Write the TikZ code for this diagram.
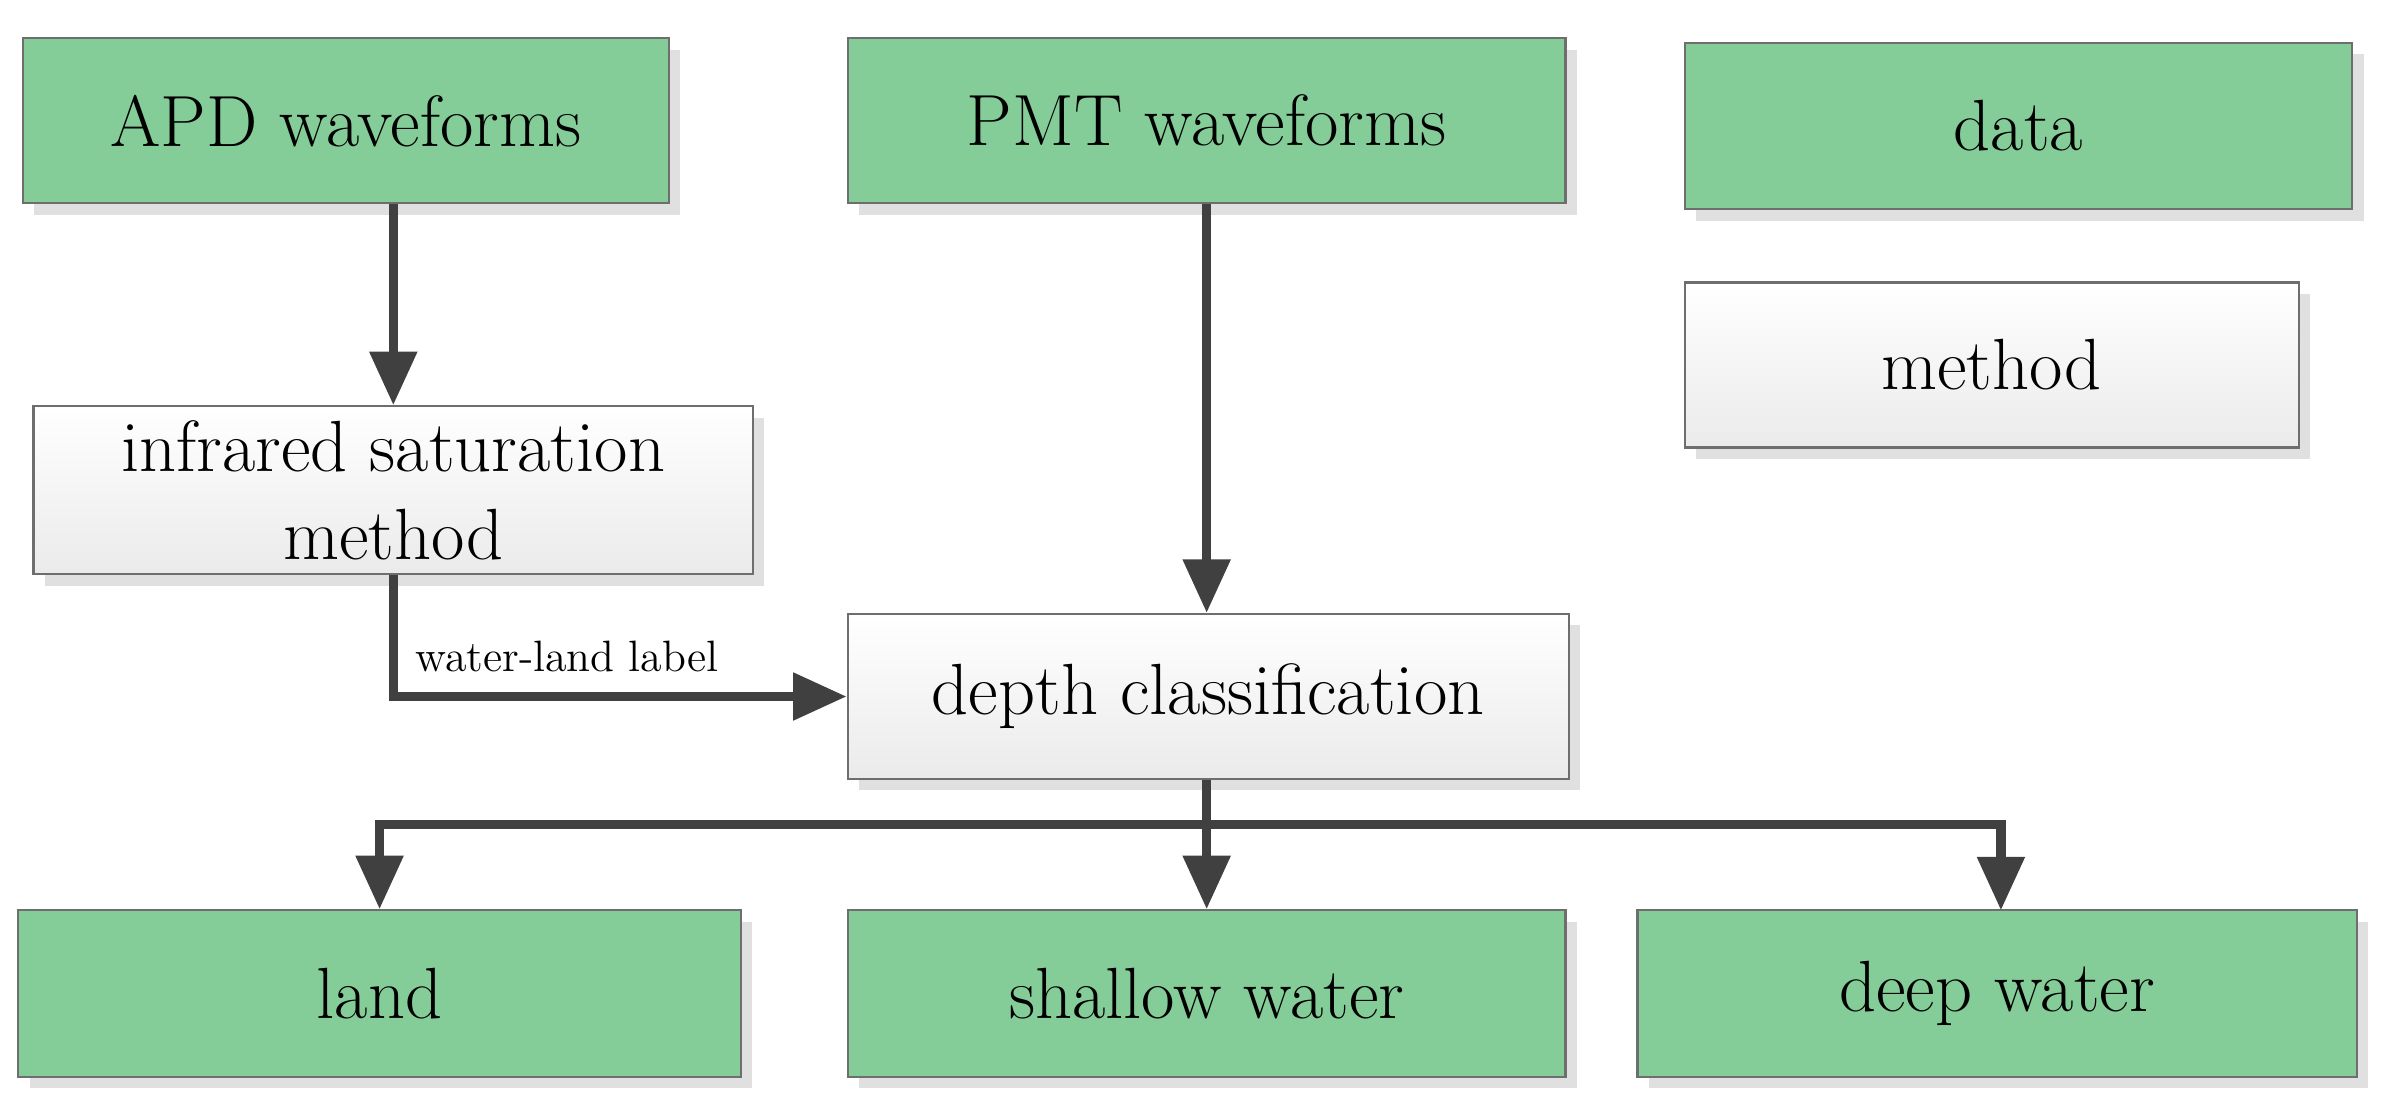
\documentclass[tikz,border=0pt]{standalone}
\usetikzlibrary{arrows.meta,shadows}
\definecolor{cgreen}{RGB}{132,204,152}
\definecolor{cline}{RGB}{64,64,64}
\definecolor{cborder}{RGB}{110,110,110}
\tikzset{
  box/.style={draw=cborder,line width=0.6pt,align=center,inner sep=0pt,
    font=\fontsize{19}{23}\selectfont,
    drop shadow={shadow xshift=3pt,shadow yshift=-3pt,fill=black!12,opacity=1}},
  databox/.style={box,fill=cgreen},
  methodbox/.style={box,top color=white,bottom color=black!8},
  flow/.style={draw=cline,line width=2.4pt,-{Triangle[length=14pt,width=12pt]}}
}
\begin{document}
\begin{tikzpicture}[x=0.4pt,y=-0.4pt]
\useasboundingbox (0,0) rectangle (1568,733);
% data and method nodes
\node[databox,minimum width=169.2pt,minimum height=43.2pt] (apd) at (226.5,79) {APD waveforms};
\node[databox,minimum width=188pt,minimum height=43.2pt] (pmt) at (790,79) {PMT waveforms};
\node[databox,minimum width=174.8pt,minimum height=43.6pt] (data) at (1321.5,82.5) {data};
\node[methodbox,minimum width=160.8pt,minimum height=43.2pt] (method) at (1304,239) {method};
\node[methodbox,minimum width=188.4pt,minimum height=44pt] (infrared) at (257.5,321) {infrared saturation\\method};
\node[methodbox,minimum width=188.8pt,minimum height=43.2pt] (depth) at (791,456) {depth classification};
\node[databox,minimum width=189.2pt,minimum height=43.6pt] (land) at (248.5,650.5) {land};
\node[databox,minimum width=188pt,minimum height=43.6pt] (shallow) at (790,650.5) {shallow water};
\node[databox,minimum width=188.4pt,minimum height=43.6pt] (deep) at (1307.5,650.5) {deep water};
% connectors
\coordinate (split) at (790,540);
\draw[flow] (infrared.north |- apd.south) -- (infrared.north);
\draw[flow] (pmt.south) -- (depth.north -| pmt.south);
\draw[flow] (infrared.south) |- node[pos=0.505,anchor=south west,yshift=2pt,font=\fontsize{11.5}{13}\selectfont] {water-land label} (depth.west);
\draw[draw=cline,line width=2.4pt] (depth.south -| split) -- (split);
\draw[flow] (split) -| (land.north);
\draw[flow] (split) -- (shallow.north -| split);
\draw[flow] (split) -| (1310,596);
\end{tikzpicture}
\end{document}
